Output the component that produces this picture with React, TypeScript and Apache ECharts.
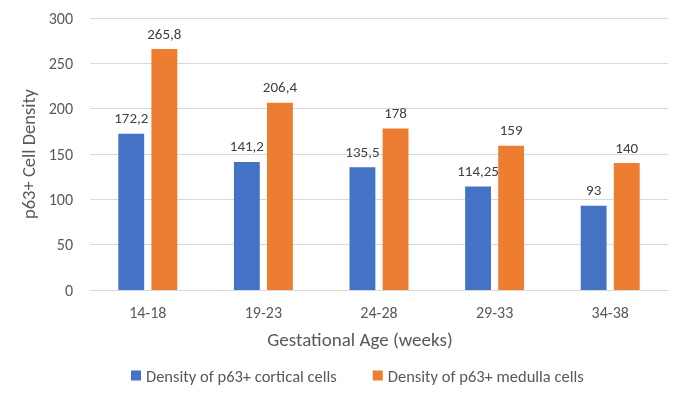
import React, { useEffect, useRef } from "react";
import * as echarts from "echarts";

const categories = ["14-18", "19-23", "24-28", "29-33", "34-38"];
const corticalValues = [172.2, 141.2, 135.5, 114.25, 93];
const medullaValues = [265.8, 206.4, 178, 159, 140];
const seriesNames = ["Density of p63+ cortical cells", "Density of p63+ medulla cells"];

const FONT = "Carlito, Lato, 'Open Sans', sans-serif";

export default function App() {
  const ref = useRef<HTMLDivElement>(null);
  useEffect(() => {
    const chart = echarts.init(ref.current!, undefined, { renderer: "svg" });
    const label = {
      show: true,
      position: "top" as const,
      distance: 8,
      color: "#404040",
      fontSize: 15,
      fontFamily: FONT,
      formatter: (p: any) => String(p.value).replace(".", ","),
    };
    chart.setOption({
      animation: false,
      textStyle: { fontFamily: FONT },
      grid: { left: 90, right: 17, top: 18, bottom: 123, containLabel: false },
      legend: {
        top: 362,
        left: 126,
        itemWidth: 10,
        itemHeight: 10,
        itemGap: 36,
        icon: "rect",
        textStyle: { color: "#595959", fontSize: 16.5, fontFamily: FONT },
        data: seriesNames,
      },
      xAxis: {
        type: "category",
        data: categories,
        name: "Gestational Age (weeks)",
        nameLocation: "middle",
        nameGap: 40,
        nameTextStyle: {
          color: "#595959",
          fontSize: 19,
          fontFamily: FONT,
          padding: [0, 38, 0, 0],
        },
        axisLine: { lineStyle: { color: "#d9d9d9" } },
        axisTick: { show: false },
        axisLabel: { color: "#595959", fontSize: 16, margin: 14, fontFamily: FONT },
      },
      yAxis: {
        type: "value",
        min: 0,
        max: 300,
        interval: 50,
        name: "p63+ Cell Density",
        nameLocation: "middle",
        nameGap: 44,
        nameRotate: 90,
        nameTextStyle: { color: "#595959", fontSize: 18.5, fontFamily: FONT },
        axisLine: { show: false },
        axisTick: { show: false },
        axisLabel: { color: "#595959", fontSize: 16, margin: 17, fontFamily: FONT },
        splitLine: { lineStyle: { color: "#d9d9d9" } },
      },
      series: [
        {
          name: seriesNames[0],
          type: "bar",
          data: corticalValues,
          itemStyle: { color: "#4472C4" },
          barGap: "28%",
          barCategoryGap: "49%",
          label,
        },
        {
          name: seriesNames[1],
          type: "bar",
          data: medullaValues,
          itemStyle: { color: "#ED7D31" },
          barGap: "28%",
          barCategoryGap: "49%",
          label,
        },
      ],
    });
    return () => chart.dispose();
  }, []);
  return (
    <div
      ref={ref}
      style={{ position: "fixed", left: 0, top: 0, width: 685, height: 413 }}
    />
  );
}
